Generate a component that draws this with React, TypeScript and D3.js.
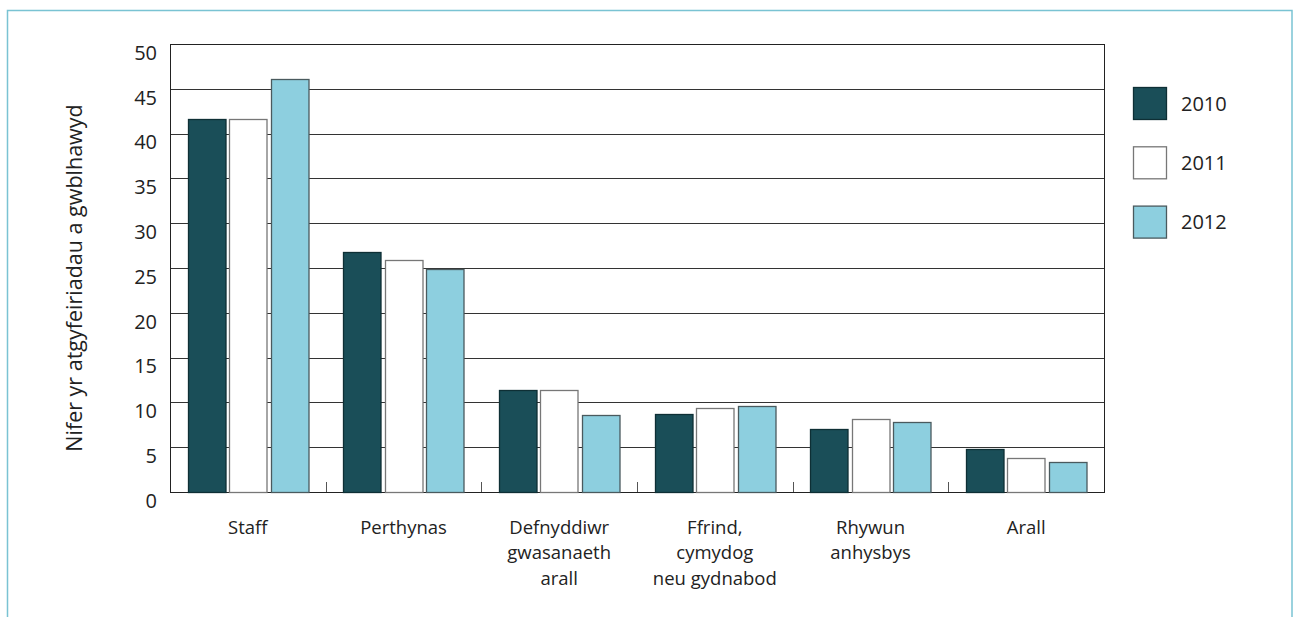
import React from "react";
import * as d3 from "d3";

const categories: string[][] = [
  ["Staff"],
  ["Perthynas"],
  ["Defnyddiwr", "gwasanaeth", "arall"],
  ["Ffrind,", "cymydog", "neu gydnabod"],
  ["Rhywun", "anhysbys"],
  ["Arall"],
];
const seriesNames = ["2010", "2011", "2012"];
const values2010 = [41.6, 26.8, 11.4, 8.7, 7.0, 4.8];
const values2011 = [41.6, 25.9, 11.4, 9.4, 8.1, 3.8];
const values2012 = [46.1, 24.9, 8.6, 9.6, 7.8, 3.3];
const yTicks = [0, 5, 10, 15, 20, 25, 30, 35, 40, 45, 50];
const yTitle = "Nifer yr atgyfeiriadau a gwblhawyd";

const fills = ["#1a4e58", "#ffffff", "#8dcfdf"];
const strokes = ["#0e2f35", "#777777", "#4a5a5e"];

export default function App() {
  const W = 1293, H = 617;
  const left = 170, right = 1104, top = 44, bottom = 492;
  const series = [values2010, values2011, values2012];
  const x = d3.scaleBand<number>().domain(d3.range(categories.length)).range([left, right]).padding(0);
  const y = d3.scaleLinear().domain([0, 50]).range([bottom, top]);
  const barW = 37.5;
  const gap = 4;
  const groupW = barW * 3 + gap * 2;
  const font = "'Open Sans', 'Noto Sans', sans-serif";
  const textColor = "#222";

  return (
    <svg width={W} height={H} style={{ position: "absolute", left: 0, top: 0, background: "#fff" }}>
      <rect x={7.5} y={10.5} width={1284.5} height={640} fill="#fff" stroke="#7ac3d3" strokeWidth={1.5} />
      {yTicks.map((t) => (
        <line key={"g" + t} x1={left} x2={right} y1={Math.round(y(t)) + 0.5} y2={Math.round(y(t)) + 0.5} stroke="#333" strokeWidth={1} />
      ))}
      <rect x={left + 0.5} y={top + 0.5} width={right - left} height={bottom - top} fill="none" stroke="#222" strokeWidth={1} />
      {d3.range(1, categories.length).map((i) => {
        const xx = Math.round(x(i) as number) + 0.5;
        return <line key={"t" + i} x1={xx} x2={xx} y1={bottom} y2={bottom - 10} stroke="#555" strokeWidth={1} />;
      })}
      {categories.map((c, i) => {
        const cx = (x(i) as number) + x.bandwidth() / 2;
        const x0 = cx - groupW / 2;
        return series.map((s, j) => {
          const bx = x0 + j * (barW + gap);
          const by = y(s[i]);
          return (
            <rect key={i + "-" + j} x={Math.round(bx) + 0.5} y={Math.round(by) + 0.5} width={barW} height={bottom - Math.round(by)}
              fill={fills[j]} stroke={strokes[j]} strokeWidth={1.3} />
          );
        });
      })}
      {yTicks.map((t) => (
        <text key={"yl" + t} x={157} y={y(t) + 8.5} dy="0.36em" textAnchor="end" fontFamily={font} fontSize={20} fill={textColor}>{t}</text>
      ))}
      <text transform={`translate(81.5,${(top + bottom) / 2 + 10}) rotate(-90)`} textAnchor="middle" fontFamily={font} fontSize={21.5} fill={textColor}>{yTitle}</text>
      {categories.map((lines, i) => {
        const cx = (x(i) as number) + x.bandwidth() / 2;
        return (
          <text key={"c" + i} x={cx} y={527} textAnchor="middle" fontFamily={font} fontSize={18.5} fill={textColor}>
            {lines.map((l, k) => (
              <tspan key={k} x={cx} y={527 + k * 25.5} dy="0.36em">{l}</tspan>
            ))}
          </text>
        );
      })}
      {seriesNames.map((n, j) => (
        <g key={"lg" + n}>
          <rect x={1133.5} y={87.5 + j * 59.3} width={33} height={32} fill={fills[j]} stroke={strokes[j]} strokeWidth={1.3} />
          <text x={1181} y={103.5 + j * 59.3} dy="0.36em" fontFamily={font} fontSize={20} fill={textColor}>{n}</text>
        </g>
      ))}
    </svg>
  );
}
